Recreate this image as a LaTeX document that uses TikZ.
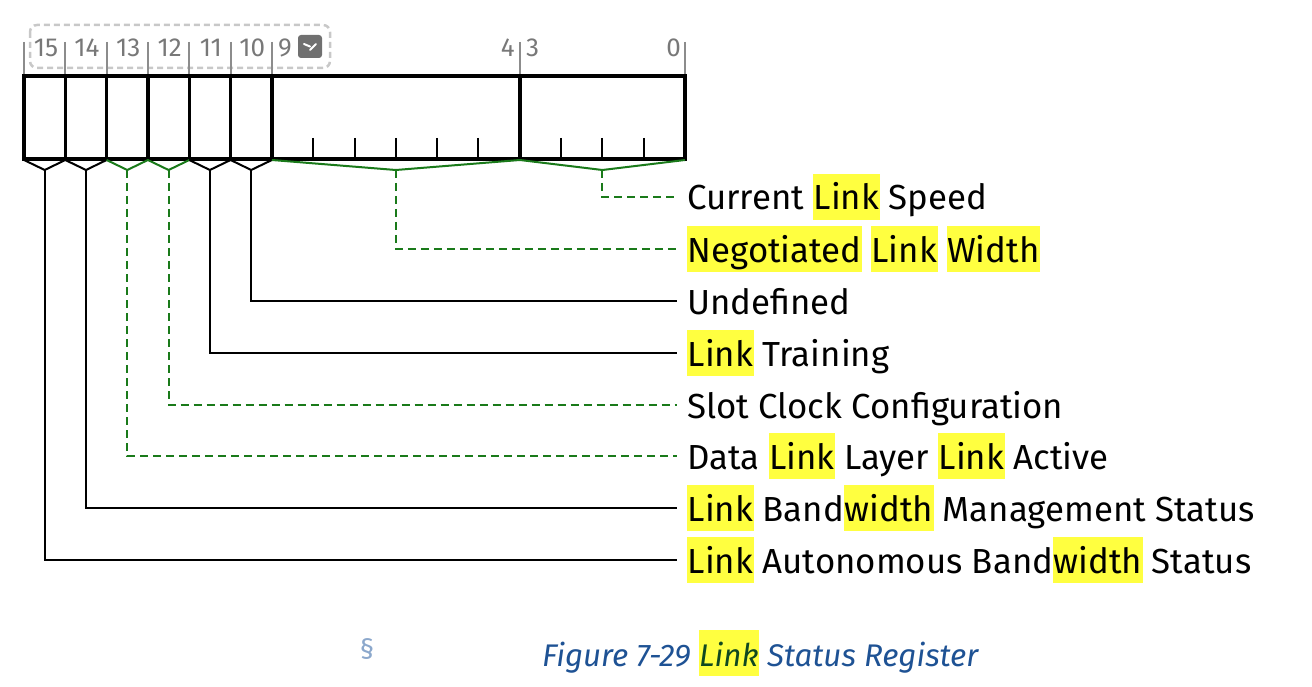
\documentclass[tikz,border=0pt]{standalone}
\usepackage{fontspec}
\setmainfont{Fira Sans}
\usepackage{tikz}

\definecolor{fieldgreen}{RGB}{26,122,26}
\definecolor{hlyellow}{RGB}{255,255,64}
\definecolor{numgray}{RGB}{120,120,120}
\definecolor{tickgray}{RGB}{140,140,140}
\definecolor{framegray}{RGB}{200,200,200}
\definecolor{btngray}{RGB}{112,112,112}
\definecolor{capblue}{RGB}{30,82,148}
\definecolor{sectblue}{RGB}{140,168,204}
\definecolor{hlgreen}{RGB}{16,72,32}

\newcommand{\hlstrut}{\rule[-10pt]{0pt}{46pt}}
\newcommand{\hl}[1]{{\setlength{\fboxsep}{0pt}\colorbox{hlyellow}{\kern0.5pt\hlstrut#1\kern0.5pt}}}

\tikzset{
  regline/.style={line width=3.5pt},
  bittick/.style={line width=2pt, draw=tickgray},
  bitnum/.style={text=numgray, inner sep=0pt, font=\fontsize{26}{30}\selectfont},
  desc/.style={anchor=west, inner xsep=10pt, inner ysep=0pt, font=\fontsize{34.8}{40}\selectfont},
  solidlead/.style={line width=2pt},
  rsvdlead/.style={line width=2pt, draw=fieldgreen, dash pattern=on 8pt off 5pt},
  brace/.style={line width=2pt, line join=miter},
}

\begin{document}
\begin{tikzpicture}[x=1pt, y=-1pt]
      \useasboundingbox (0,0) rectangle (1312,687);
      % bit numbers
      \draw[framegray, line width=2.5pt, dash pattern=on 6pt off 4pt, rounded corners=7pt] (30,25) rectangle (330,68);
      \node[name=menu, fill=btngray, rounded corners=3pt, minimum width=24pt, minimum height=23pt, inner sep=0pt] at (310,46.5){};
      \draw[white, line width=2pt, line cap=round, line join=round] (304,44) -- (menu.center) ++(0,3.5) -- (316,44);
      \draw[bittick] (24,42) -- (24,76) (65.3,42) -- (65.3,76) (106.6,42) -- (106.6,76)
        (147.9,42) -- (147.9,76) (189.3,42) -- (189.3,76) (230.6,42) -- (230.6,76)
        (271.9,42) -- (271.9,76) (519.8,42) -- (519.8,76) (685,42) -- (685,76);
      \node[bitnum, anchor=base] (n15) at (46,57){15};
      \node[bitnum, anchor=base] (n14) at (87,57){14};
      \node[bitnum, anchor=base] (n13) at (128.3,57){13};
      \node[bitnum, anchor=base] (n12) at (169.6,57){12};
      \node[bitnum, anchor=base] (n11) at (210.9,57){11};
      \node[bitnum, anchor=base] (n10) at (252.2,57){10};
      \node[bitnum, anchor=base west] (n9) at (278,57){9};
      \node[bitnum, anchor=base east] (n4) at (515,57){4};
      \node[bitnum, anchor=base west] (n3) at (526,57){3};
      \node[bitnum, anchor=base east] (n0) at (681,57){0};
      % register
      \draw[regline] (24,76) rectangle (685,159);
      \draw[regline] (65.3,76) -- (65.3,159) (106.6,76) -- (106.6,159) (147.9,76) -- (147.9,159)
        (189.3,76) -- (189.3,159) (230.6,76) -- (230.6,159) (271.9,76) -- (271.9,159)
        (519.8,76) -- (519.8,159);
      \draw[solidlead] (313.2,138) -- (313.2,159) (354.5,138) -- (354.5,159) (395.8,138) -- (395.8,159)
        (437.1,138) -- (437.1,159) (478.4,138) -- (478.4,159) (561.1,138) -- (561.1,159)
        (602.4,138) -- (602.4,159) (643.7,138) -- (643.7,159);
      % braces
      \coordinate (a15) at (44.7,170);
      \coordinate (a14) at (86,170);
      \coordinate (a13) at (127.3,170);
      \coordinate (a12) at (168.6,170);
      \coordinate (a11) at (209.9,170);
      \coordinate (a10) at (251.2,170);
      \coordinate (a94) at (395.8,170);
      \coordinate (a30) at (602.4,170);
      \draw[brace] (24,160) -- (a15) -- (65.3,160) -- (a14) -- (106.6,160);
      \draw[brace, fieldgreen] (106.6,160) -- (a13) -- (147.9,160) -- (a12) -- (189.3,160);
      \draw[brace] (189.3,160) -- (a11) -- (230.6,160) -- (a10) -- (271.9,160);
      \draw[brace, fieldgreen] (271.9,160) -- (a94) -- (519.8,160) -- (a30) -- (685,160);
      % fields
      \node[desc] (speed) at (677,197){\hlstrut Current \hl{Link} Speed};
      \node[desc] (width) at (677,249){\hlstrut\hl{Negotiated} \hl{Link} \hl{Width}};
      \node[desc] (undef) at (677,301){\hlstrut Undefined};
      \node[desc] (train) at (677,353){\hlstrut\hl{Link} Training};
      \node[desc] (clock) at (677,405){\hlstrut Slot Clock Configuration};
      \node[desc] (dllla) at (677,456){\hlstrut Data \hl{Link} Layer \hl{Link} Active};
      \node[desc] (lbms) at (677,508){\hlstrut\hl{Link} Band\hl{width} Management Status};
      \node[desc] (labs) at (677,560){\hlstrut\hl{Link} Autonomous Band\hl{width} Status};
      \draw[rsvdlead] (a30) |- (speed.west);
      \draw[rsvdlead] (a94) |- (width.west);
      \draw[solidlead] (a10) |- (undef.west);
      \draw[solidlead] (a11) |- (train.west);
      \draw[rsvdlead] (a12) |- (clock.west);
      \draw[rsvdlead] (a13) |- (dllla.west);
      \draw[solidlead] (a14) |- (lbms.west);
      \draw[solidlead] (a15) |- (labs.west);
      % caption
      \node[text=sectblue, anchor=base, inner sep=0pt, font=\fontsize{28}{30}\selectfont] (sect) at (367,657){\S};
      \node[text=capblue, anchor=base west, inner sep=0pt, font=\fontsize{31.3}{40}\selectfont\itshape] (capt) at (542,666){Figure 7-29 \hl{\color{hlgreen}Link} Status Register};
    \end{tikzpicture}
\end{document}
